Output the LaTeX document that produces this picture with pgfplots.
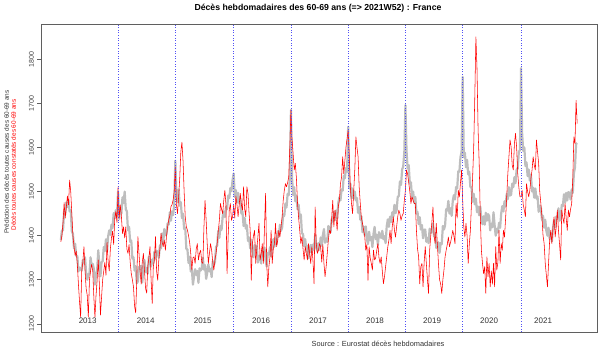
\documentclass[border=0pt]{standalone}
\usepackage{fontspec}
\setmainfont{Liberation Sans}
\usepackage{pgfplots}
\pgfplotsset{compat=1.18}
\usepackage{pgfplotstable}
\definecolor{predgray}{RGB}{190,190,190}
\definecolor{obsred}{RGB}{255,0,0}
\definecolor{framegray}{RGB}{95,95,95}
\definecolor{vlineblue}{RGB}{80,80,245}
\tikzset{yearlbl/.style={font=\fontsize{8}{9}\selectfont, text=black!80}}
% observed weekly deaths 60-69, 2013W01 .. 2021W52
\pgfplotstableread[row sep=\\]{v\\
1386\\ 1400\\ 1430\\ 1475\\ 1440\\ 1465\\ 1490\\ 1470\\ 1526\\ 1500\\ 1450\\ 1400\\ 1375\\ 1355\\ 1365\\ 1335\\ 1290\\ 1250\\ 1215\\ 1320\\ 1340\\ 1375\\ 1320\\ 1280\\ 1265\\ 1215\\ 1300\\ 1320\\ 1335\\ 1320\\ 1260\\ 1215\\ 1265\\ 1300\\ 1345\\ 1290\\ 1220\\ 1260\\ 1300\\ 1320\\ 1340\\ 1310\\ 1385\\ 1340\\ 1320\\ 1370\\ 1395\\ 1410\\ 1380\\ 1440\\ 1455\\ 1430\\
1511\\ 1440\\ 1470\\ 1445\\ 1405\\ 1420\\ 1395\\ 1420\\ 1370\\ 1360\\ 1380\\ 1340\\ 1314\\ 1300\\ 1284\\ 1240\\ 1225\\ 1300\\ 1398\\ 1360\\ 1320\\ 1290\\ 1340\\ 1360\\ 1320\\ 1280\\ 1270\\ 1330\\ 1350\\ 1375\\ 1300\\ 1246\\ 1330\\ 1345\\ 1398\\ 1320\\ 1299\\ 1345\\ 1370\\ 1405\\ 1385\\ 1375\\ 1390\\ 1367\\ 1400\\ 1420\\ 1436\\ 1445\\ 1466\\ 1470\\ 1481\\ 1500\\
1556\\ 1470\\ 1450\\ 1488\\ 1530\\ 1590\\ 1612\\ 1570\\ 1500\\ 1443\\ 1420\\ 1413\\ 1400\\ 1385\\ 1360\\ 1322\\ 1350\\ 1352\\ 1337\\ 1370\\ 1382\\ 1345\\ 1360\\ 1367\\ 1340\\ 1337\\ 1420\\ 1480\\ 1435\\ 1380\\ 1337\\ 1360\\ 1382\\ 1367\\ 1340\\ 1322\\ 1345\\ 1360\\ 1382\\ 1410\\ 1435\\ 1473\\ 1460\\ 1450\\ 1480\\ 1503\\ 1470\\ 1314\\ 1400\\ 1458\\ 1473\\ 1435\\ 1443\\
1470\\ 1440\\ 1490\\ 1470\\ 1443\\ 1470\\ 1496\\ 1470\\ 1458\\ 1511\\ 1460\\ 1443\\ 1511\\ 1495\\ 1450\\ 1412\\ 1299\\ 1382\\ 1400\\ 1412\\ 1337\\ 1370\\ 1397\\ 1428\\ 1345\\ 1360\\ 1382\\ 1337\\ 1420\\ 1496\\ 1337\\ 1284\\ 1330\\ 1352\\ 1412\\ 1337\\ 1370\\ 1382\\ 1428\\ 1375\\ 1390\\ 1412\\ 1397\\ 1420\\ 1443\\ 1480\\ 1503\\ 1518\\ 1511\\ 1520\\ 1533\\ 1600\\
1685\\ 1620\\ 1586\\ 1549\\ 1564\\ 1530\\ 1473\\ 1440\\ 1412\\ 1382\\ 1397\\ 1370\\ 1345\\ 1375\\ 1360\\ 1345\\ 1382\\ 1360\\ 1337\\ 1375\\ 1345\\ 1291\\ 1465\\ 1382\\ 1360\\ 1367\\ 1382\\ 1375\\ 1340\\ 1380\\ 1337\\ 1307\\ 1330\\ 1360\\ 1390\\ 1412\\ 1405\\ 1440\\ 1480\\ 1420\\ 1458\\ 1440\\ 1412\\ 1465\\ 1480\\ 1518\\ 1533\\ 1579\\ 1541\\ 1570\\ 1601\\ 1620\\
1639\\ 1580\\ 1510\\ 1473\\ 1450\\ 1500\\ 1549\\ 1624\\ 1600\\ 1579\\ 1510\\ 1473\\ 1440\\ 1428\\ 1412\\ 1400\\ 1367\\ 1380\\ 1299\\ 1375\\ 1350\\ 1337\\ 1322\\ 1367\\ 1345\\ 1350\\ 1367\\ 1382\\ 1350\\ 1337\\ 1352\\ 1320\\ 1291\\ 1307\\ 1330\\ 1352\\ 1375\\ 1390\\ 1412\\ 1382\\ 1420\\ 1443\\ 1412\\ 1397\\ 1420\\ 1443\\ 1458\\ 1450\\ 1435\\ 1445\\ 1450\\ 1480\\
1503\\ 1549\\ 1540\\ 1520\\ 1500\\ 1473\\ 1488\\ 1480\\ 1473\\ 1473\\ 1412\\ 1370\\ 1352\\ 1291\\ 1330\\ 1337\\ 1284\\ 1340\\ 1375\\ 1337\\ 1300\\ 1269\\ 1367\\ 1400\\ 1430\\ 1465\\ 1400\\ 1382\\ 1428\\ 1380\\ 1337\\ 1300\\ 1291\\ 1269\\ 1300\\ 1322\\ 1352\\ 1367\\ 1380\\ 1397\\ 1375\\ 1385\\ 1397\\ 1412\\ 1400\\ 1382\\ 1473\\ 1440\\ 1503\\ 1488\\ 1520\\ 1549\\
1480\\ 1420\\ 1397\\ 1428\\ 1400\\ 1337\\ 1380\\ 1412\\ 1473\\ 1530\\ 1600\\ 1715\\ 1851\\ 1780\\ 1640\\ 1564\\ 1443\\ 1367\\ 1337\\ 1314\\ 1330\\ 1269\\ 1352\\ 1307\\ 1337\\ 1284\\ 1320\\ 1290\\ 1337\\ 1284\\ 1375\\ 1322\\ 1340\\ 1412\\ 1337\\ 1382\\ 1367\\ 1412\\ 1397\\ 1440\\ 1488\\ 1540\\ 1579\\ 1617\\ 1601\\ 1560\\ 1549\\ 1609\\ 1632\\ 1600\\ 1541\\ 1510\\ 1488\\
1488\\ 1503\\ 1470\\ 1458\\ 1443\\ 1518\\ 1500\\ 1488\\ 1503\\ 1530\\ 1549\\ 1579\\ 1560\\ 1549\\ 1617\\ 1590\\ 1564\\ 1500\\ 1473\\ 1443\\ 1400\\ 1382\\ 1337\\ 1310\\ 1284\\ 1337\\ 1390\\ 1412\\ 1382\\ 1420\\ 1443\\ 1397\\ 1420\\ 1458\\ 1412\\ 1380\\ 1345\\ 1458\\ 1440\\ 1428\\ 1473\\ 1440\\ 1412\\ 1458\\ 1443\\ 1460\\ 1473\\ 1530\\ 1624\\ 1609\\ 1707\\ 1654\\
}\obs
% predicted weekly deaths 60-69
\pgfplotstableread[row sep=\\]{v\\
1390\\ 1412\\ 1412\\ 1455\\ 1448\\ 1476\\ 1465\\ 1480\\ 1455\\ 1458\\ 1410\\ 1404\\ 1371\\ 1382\\ 1354\\ 1354\\ 1319\\ 1328\\ 1324\\ 1321\\ 1345\\ 1338\\ 1351\\ 1316\\ 1300\\ 1313\\ 1313\\ 1351\\ 1332\\ 1336\\ 1325\\ 1289\\ 1313\\ 1321\\ 1367\\ 1334\\ 1308\\ 1340\\ 1342\\ 1374\\ 1365\\ 1392\\ 1365\\ 1399\\ 1412\\ 1402\\ 1425\\ 1417\\ 1451\\ 1440\\ 1458\\ 1445\\
1500\\ 1438\\ 1463\\ 1450\\ 1487\\ 1474\\ 1500\\ 1460\\ 1455\\ 1412\\ 1420\\ 1386\\ 1389\\ 1348\\ 1351\\ 1321\\ 1331\\ 1292\\ 1296\\ 1329\\ 1325\\ 1332\\ 1294\\ 1324\\ 1345\\ 1317\\ 1327\\ 1314\\ 1353\\ 1344\\ 1330\\ 1346\\ 1337\\ 1364\\ 1348\\ 1366\\ 1362\\ 1350\\ 1378\\ 1371\\ 1405\\ 1383\\ 1415\\ 1401\\ 1403\\ 1428\\ 1425\\ 1453\\ 1434\\ 1455\\ 1447\\ 1470\\
1570\\ 1492\\ 1477\\ 1505\\ 1468\\ 1476\\ 1440\\ 1450\\ 1415\\ 1418\\ 1370\\ 1369\\ 1338\\ 1352\\ 1319\\ 1324\\ 1289\\ 1308\\ 1324\\ 1311\\ 1320\\ 1293\\ 1326\\ 1321\\ 1325\\ 1350\\ 1323\\ 1333\\ 1302\\ 1316\\ 1335\\ 1319\\ 1325\\ 1306\\ 1342\\ 1334\\ 1340\\ 1375\\ 1377\\ 1411\\ 1395\\ 1422\\ 1413\\ 1444\\ 1455\\ 1442\\ 1465\\ 1460\\ 1491\\ 1485\\ 1508\\ 1501\\ 1526\\
1541\\ 1488\\ 1503\\ 1475\\ 1497\\ 1474\\ 1485\\ 1450\\ 1455\\ 1422\\ 1440\\ 1416\\ 1424\\ 1388\\ 1396\\ 1371\\ 1391\\ 1362\\ 1351\\ 1379\\ 1370\\ 1377\\ 1339\\ 1354\\ 1355\\ 1337\\ 1367\\ 1354\\ 1373\\ 1344\\ 1330\\ 1361\\ 1357\\ 1374\\ 1353\\ 1381\\ 1392\\ 1375\\ 1393\\ 1381\\ 1410\\ 1398\\ 1425\\ 1411\\ 1418\\ 1448\\ 1445\\ 1473\\ 1464\\ 1495\\ 1492\\ 1530\\
1685\\ 1532\\ 1492\\ 1510\\ 1478\\ 1491\\ 1460\\ 1470\\ 1440\\ 1448\\ 1405\\ 1404\\ 1376\\ 1392\\ 1366\\ 1377\\ 1349\\ 1370\\ 1379\\ 1361\\ 1380\\ 1368\\ 1401\\ 1376\\ 1365\\ 1383\\ 1368\\ 1396\\ 1377\\ 1401\\ 1415\\ 1384\\ 1393\\ 1386\\ 1422\\ 1409\\ 1408\\ 1438\\ 1432\\ 1454\\ 1435\\ 1457\\ 1440\\ 1474\\ 1487\\ 1480\\ 1505\\ 1502\\ 1536\\ 1530\\ 1553\\ 1545\\
1647\\ 1508\\ 1518\\ 1485\\ 1507\\ 1484\\ 1500\\ 1480\\ 1485\\ 1452\\ 1465\\ 1436\\ 1444\\ 1408\\ 1421\\ 1401\\ 1421\\ 1392\\ 1381\\ 1409\\ 1390\\ 1397\\ 1374\\ 1404\\ 1420\\ 1392\\ 1402\\ 1379\\ 1408\\ 1399\\ 1395\\ 1411\\ 1392\\ 1399\\ 1383\\ 1421\\ 1437\\ 1420\\ 1443\\ 1431\\ 1453\\ 1443\\ 1470\\ 1451\\ 1458\\ 1488\\ 1490\\ 1523\\ 1515\\ 1550\\ 1557\\ 1590\\
1696\\ 1592\\ 1552\\ 1560\\ 1518\\ 1521\\ 1485\\ 1500\\ 1475\\ 1488\\ 1450\\ 1454\\ 1426\\ 1442\\ 1414\\ 1424\\ 1394\\ 1413\\ 1414\\ 1386\\ 1395\\ 1383\\ 1416\\ 1406\\ 1410\\ 1428\\ 1398\\ 1406\\ 1372\\ 1381\\ 1385\\ 1361\\ 1383\\ 1381\\ 1422\\ 1414\\ 1423\\ 1460\\ 1457\\ 1479\\ 1450\\ 1462\\ 1445\\ 1479\\ 1492\\ 1482\\ 1510\\ 1507\\ 1546\\ 1545\\ 1578\\ 1590\\
1760\\ 1578\\ 1588\\ 1555\\ 1572\\ 1539\\ 1545\\ 1510\\ 1510\\ 1477\\ 1495\\ 1471\\ 1484\\ 1453\\ 1466\\ 1446\\ 1466\\ 1437\\ 1426\\ 1444\\ 1425\\ 1452\\ 1434\\ 1449\\ 1445\\ 1412\\ 1427\\ 1419\\ 1453\\ 1424\\ 1400\\ 1416\\ 1407\\ 1429\\ 1418\\ 1451\\ 1467\\ 1455\\ 1478\\ 1466\\ 1495\\ 1483\\ 1510\\ 1491\\ 1493\\ 1518\\ 1510\\ 1533\\ 1519\\ 1550\\ 1552\\ 1590\\ 1594\\
1780\\ 1632\\ 1592\\ 1600\\ 1558\\ 1566\\ 1535\\ 1550\\ 1525\\ 1538\\ 1500\\ 1509\\ 1486\\ 1507\\ 1484\\ 1489\\ 1454\\ 1468\\ 1464\\ 1436\\ 1445\\ 1418\\ 1436\\ 1411\\ 1400\\ 1418\\ 1393\\ 1406\\ 1387\\ 1416\\ 1435\\ 1419\\ 1443\\ 1441\\ 1462\\ 1434\\ 1438\\ 1470\\ 1467\\ 1494\\ 1475\\ 1497\\ 1480\\ 1499\\ 1497\\ 1482\\ 1505\\ 1497\\ 1541\\ 1555\\ 1608\\ 1610\\
}\pred
\begin{document}
\begin{tikzpicture}
\useasboundingbox (0pt,0pt) rectangle (602pt,351pt);
\begin{axis}[
  at={(41pt,19pt)}, anchor=south west,
  scale only axis, width=556pt, height=308pt,
  xmin=-18, xmax=487, ymin=1181.6, ymax=1880,
  xtick=\empty,
  ytick={1200,1300,...,1800},
  ytick pos=left, tick align=outside,
  major tick length=3.5pt,
  yticklabel style={rotate=90, anchor=south, font=\fontsize{7}{8}\selectfont, text=black!75},
  /pgf/number format/assume math mode=true,
  /pgf/number format/set thousands separator={},
  axis line style={framegray, line width=0.8pt},
  tick style={framegray, line width=0.6pt},
]
\addplot[predgray, line width=2.2pt, line join=round, mark=none] table[x expr=\coordindex, y=v] {\pred};
\addplot[obsred, line width=0.55pt, line join=round, mark=none] table[x expr=\coordindex, y=v] {\obs};
\pgfplotsinvokeforeach{52,104,157,209,261,313,365,418}{
  \draw[vlineblue, dotted, line width=0.6pt] (axis cs:#1,1181.6) -- (axis cs:#1,1880);
}
\node[yearlbl] at (axis cs:24.4,1207) {2013};
\node[yearlbl] at (axis cs:77.1,1207) {2014};
\node[yearlbl] at (axis cs:128.9,1207) {2015};
\node[yearlbl] at (axis cs:181.9,1207) {2016};
\node[yearlbl] at (axis cs:233.6,1207) {2017};
\node[yearlbl] at (axis cs:285.4,1207) {2018};
\node[yearlbl] at (axis cs:337.2,1207) {2019};
\node[yearlbl] at (axis cs:389.0,1207) {2020};
\node[yearlbl] at (axis cs:438.0,1207) {2021};
\end{axis}
\node[font=\bfseries\fontsize{8.7}{10}\selectfont] at (318pt,343pt) {Décès hebdomadaires des 60-69 ans (=> 2021W52) : France};
\node[font=\fontsize{6.4}{7}\selectfont, text=black!80, rotate=90] at (6.5pt,189pt) {Prédiction des décès toutes causes des 60-69 ans};
\node[font=\fontsize{6.4}{7}\selectfont, text=obsred, rotate=90] at (13.5pt,186pt) {Décès toutes causes constatés des 60-69 ans};
\node[font=\fontsize{7.4}{8.5}\selectfont, text=black!80] at (378pt,7pt) {Source : Eurostat décès hebdomadaires};
\end{tikzpicture}
\end{document}
